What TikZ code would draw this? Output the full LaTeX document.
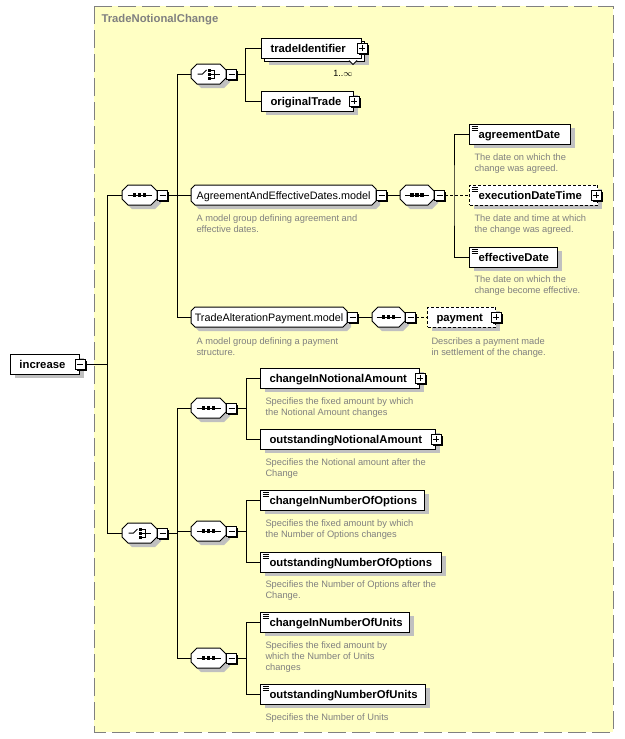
\documentclass[tikz,border=0pt]{standalone}
\usepackage{fontspec}
\setmainfont{Liberation Sans}
\usepackage{tikz}
\usetikzlibrary{shadows}

\definecolor{panelfill}{HTML}{FFFFC4}
\definecolor{panelgray}{HTML}{808080}
\definecolor{shadegray}{HTML}{C0C0C0}
\definecolor{notegray}{HTML}{808080}

\newcommand{\elemfont}{\fontsize{11.3}{13}\selectfont\bfseries}
\newcommand{\modelfont}{\fontsize{10.8}{13}\selectfont}
\newcommand{\notefont}{\fontsize{9.3}{11}\selectfont}

% rectangle with cut corners, for compositors and model groups
\makeatletter
\newdimen\octL \newdimen\octR \newdimen\octT \newdimen\octB \newdimen\octC
\pgfkeys{/pgf/oct cut/.initial=5pt}
\pgfdeclareshape{octbox}{%
  \inheritsavedanchors[from=rectangle]%
  \inheritanchorborder[from=rectangle]%
  \inheritanchor[from=rectangle]{center}%
  \inheritanchor[from=rectangle]{north}%
  \inheritanchor[from=rectangle]{south}%
  \inheritanchor[from=rectangle]{east}%
  \inheritanchor[from=rectangle]{west}%
  \inheritanchor[from=rectangle]{north east}%
  \inheritanchor[from=rectangle]{north west}%
  \inheritanchor[from=rectangle]{south east}%
  \inheritanchor[from=rectangle]{south west}%
  \inheritanchor[from=rectangle]{base}%
  \backgroundpath{%
    \pgfmathsetlength\octC{\pgfkeysvalueof{/pgf/oct cut}}%
    \southwest \octL=\pgf@x \octB=\pgf@y
    \northeast \octR=\pgf@x \octT=\pgf@y
    \pgfpathmoveto{\pgfpoint{\octL+\octC}{\octT}}%
    \pgfpathlineto{\pgfpoint{\octR-\octC}{\octT}}%
    \pgfpathlineto{\pgfpoint{\octR}{\octT-\octC}}%
    \pgfpathlineto{\pgfpoint{\octR}{\octB+\octC}}%
    \pgfpathlineto{\pgfpoint{\octR-\octC}{\octB}}%
    \pgfpathlineto{\pgfpoint{\octL+\octC}{\octB}}%
    \pgfpathlineto{\pgfpoint{\octL}{\octB+\octC}}%
    \pgfpathlineto{\pgfpoint{\octL}{\octT-\octC}}%
    \pgfpathclose}}
\makeatother

\begin{document}
\begin{tikzpicture}[x=1pt, y=-1pt, line width=1pt,
  shd/.style      = {drop shadow={shadow xshift=4pt, shadow yshift=-4pt,
                     fill=shadegray, opacity=1}},
  box/.style      = {draw, fill=white, rectangle, anchor=west, align=left,
                     text width=#1, inner xsep=9pt, inner ysep=0pt,
                     minimum height=20pt, text height=9pt, text depth=1pt,
                     font=\elemfont},
  el/.style       = {box=#1, shd},
  opt/.style      = {el=#1, dash pattern=on 3pt off 2pt},
  simple/.style   = {path picture={
                       \foreach \k in {2,4,6}
                         \draw[solid, line width=.8pt]
                           ([shift={(2,\k)}]path picture bounding box.north west) -- ++(6,0);}},
  oct/.style      = {shd, draw, fill=white, shape=octbox, oct cut=6pt,
                     minimum width=35pt, minimum height=20pt, inner sep=0pt,
                     outer sep=0pt, anchor=west},
  seq/.style      = {oct, path picture={
                       \draw ([xshift=-12pt]path picture bounding box.center)
                          -- ([xshift=12pt]path picture bounding box.center);
                       \foreach \k in {-5,0,5}
                         \fill[black] ([shift={(\k-1.75,-1.75)}]path picture bounding box.center)
                           rectangle ++(3.5,3.5);}},
  choice/.style   = {oct, path picture={
                       \draw ([shift={(-11,0)}]path picture bounding box.center)
                          -- ([shift={(-6,0)}]path picture bounding box.center)
                          -- ([shift={(-2,-4)}]path picture bounding box.center);
                       \foreach \k in {-4,0,4}
                         \fill[black] ([shift={(-1,\k-1.5)}]path picture bounding box.center)
                           rectangle ++(3,3);
                       \draw ([shift={(2,-4)}]path picture bounding box.center)
                          -- ++(4,0) -- ++(0,8) -- ++(-4,0);
                       \draw ([shift={(2,0)}]path picture bounding box.center) -- ++(9,0);}},
  mdl/.style      = {shd, draw, fill=white, shape=octbox, oct cut=4pt,
                     minimum width=#1, minimum height=20pt, inner xsep=2pt, inner ysep=0pt,
                     outer sep=0pt, text height=9pt, text depth=1pt, anchor=west,
                     font=\modelfont},
  btn/.style      = {draw, fill=white, rectangle, minimum size=10pt, inner sep=0pt,
                     drop shadow={shadow xshift=1.5pt, shadow yshift=-1.5pt,
                     fill=black, opacity=1}},
  btnminus/.style = {btn, path picture={
                       \draw ([xshift=2pt]path picture bounding box.west)
                          -- ([xshift=-2pt]path picture bounding box.east);}},
  btnplus/.style  = {btn, path picture={
                       \draw ([xshift=2pt]path picture bounding box.west)
                          -- ([xshift=-2pt]path picture bounding box.east);
                       \draw ([yshift=2pt]path picture bounding box.south)
                          -- ([yshift=-2pt]path picture bounding box.north);}},
  note/.style     = {anchor=north west, inner sep=0pt, align=left,
                     font=\notefont, text=notegray},
  optline/.style  = {dash pattern=on 3pt off 2pt}]

\useasboundingbox (0,0) rectangle (624,739);

% --- panel ------------------------------------------------------------
\draw[panelgray, fill=panelfill, dash pattern=on 18pt off 6pt] (94,6) rectangle (613,732);
\node[font=\elemfont, text=panelgray, anchor=base west, inner sep=0pt] (title)
      at (101,22) {TradeNotionalChange};

% --- root -------------------------------------------------------------
\node[el=51] (inc) at (10,364) {increase};
\node[btnminus] (incB) at (inc.east) {};

% --- upper sequence ---------------------------------------------------
\node[seq] (sq1) at (122,195) {};
\node[btnminus, anchor=west] (sq1B) at (sq1.east) {};

\node[choice] (ch1) at (191,74) {};
\node[btnminus, anchor=west] (ch1B) at (ch1.east) {};
\node[box=82, shd] (tidBack) at (264,51) {};
\node[box=82] (tid) at (261,48) {tradeIdentifier};
\node[btnplus] (tidB) at (tid.east) {};
\draw[fill=white, line width=.8pt] ([shift={(-16,-1)}]tidBack.south east)
      -- ++(4,4) -- ++(4,-4);
\node[font=\fontsize{9}{10}\selectfont, inner sep=0pt] (tidOcc) at (343,73) {1..$\infty$};
\node[el=74] (ot) at (261,101) {originalTrade};
\node[btnplus] (otB) at (ot.east) {};

\node[mdl=185pt] (mdl1) at (191,195) {AgreementAndEffectiveDates.model};
\node[btnminus, anchor=west] (mdl1B) at (mdl1.east) {};
\node[note] (mdl1N) at (196,214) {A model group defining agreement and\\effective dates.};
\node[seq, minimum width=34pt] (sq2) at (400,195) {};
\node[btnminus, anchor=west] (sq2B) at (sq2.east) {};
\node[el=83, simple] (agd) at (469,134) {agreementDate};
\node[note] (agdN) at (474,153) {The date on which the\\change was agreed.};
\node[opt=110, simple] (exd) at (469,195) {executionDateTime};
\node[btnplus] (exdB) at ([xshift=-2pt]exd.east) {};
\node[note] (exdN) at (474,214) {The date and time at which\\the change was agreed.};
\node[el=70, simple] (efd) at (469,257) {effectiveDate};
\node[note] (efdN) at (474,275) {The date on which the\\change become effective.};

\node[mdl=156pt] (mdl2) at (191,317) {TradeAlterationPayment.model};
\node[btnminus, anchor=west] (mdl2B) at (mdl2.east) {};
\node[note] (mdl2N) at (196,337) {A model group defining a payment\\structure.};
\node[seq, minimum width=33pt] (sq3) at (372,317) {};
\node[btnminus, anchor=west] (sq3B) at (sq3.east) {};
\node[opt=50] (pay) at (427,317) {payment};
\node[btnplus] (payB) at (pay.east) {};
\node[note] (payN) at (431,337) {Describes a payment made\\in settlement of the change.};

% --- lower choice -----------------------------------------------------
\node[choice] (ch2) at (122,533) {};
\node[btnminus, anchor=west] (ch2B) at (ch2.east) {};

\node[seq] (sqA) at (191,408) {};
\node[btnminus, anchor=west] (sqAB) at (sqA.east) {};
\node[el=141] (cina) at (260,378) {changeInNotionalAmount};
\node[btnplus] (cinaB) at (cina.east) {};
\node[note] (cinaN) at (265,397) {Specifies the fixed amount by which\\the Notional Amount changes};
\node[el=157] (ona) at (260,439) {outstandingNotionalAmount};
\node[btnplus] (onaB) at (ona.east) {};
\node[note] (onaN) at (265,458) {Specifies the Notional amount after the\\Change};

\node[seq] (sqB) at (191,531) {};
\node[btnminus, anchor=west] (sqBB) at (sqB.east) {};
\node[el=146, simple] (cino) at (260,500) {changeInNumberOfOptions};
\node[note] (cinoN) at (265,519) {Specifies the fixed amount by which\\the Number of Options changes};
\node[el=163, simple] (ono) at (260,562) {outstandingNumberOfOptions};
\node[note] (onoN) at (265,580) {Specifies the Number of Options after the\\Change.};

\node[seq] (sqC) at (191,658) {};
\node[btnminus, anchor=west] (sqCB) at (sqC.east) {};
\node[el=131, simple] (cinu) at (260,622) {changeInNumberOfUnits};
\node[note] (cinuN) at (265,641) {Specifies the fixed amount by\\which the Number of Units\\changes};
\node[el=147, simple] (onu) at (260,694) {outstandingNumberOfUnits};
\node[note] (onuN) at (265,713) {Specifies the Number of Units};

% --- connectors -------------------------------------------------------
\coordinate (busRoot) at (107,0);
\coordinate (busTop)  at (177,0);
\coordinate (busTid)  at (245,0);
\coordinate (busDate) at (454,0);
\coordinate (busBot)  at (177,0);
\coordinate (busAmt)  at (246,0);

\draw (incB.east) -- (incB.east -| busRoot) |- (sq1.west);
\draw (incB.east -| busRoot) |- (ch2.west);

\draw (sq1B.east) -- (sq1B.east -| busTop) |- (ch1.west);
\draw (sq1B.east -| busTop) |- (mdl1.west);
\draw (sq1B.east -| busTop) |- (mdl2.west);

\draw (ch1B.east) -- (ch1B.east -| busTid) |- (tid.west);
\draw (ch1B.east -| busTid) |- (ot.west);

\draw (mdl1B.east) -- (sq2.west);
\draw (agd.west) -| (sq2B.east -| busDate) |- (efd.west);
\draw[optline] (sq2B.east) -- (exd.west);

\draw (mdl2B.east) -- (sq3.west);
\draw[optline] (sq3B.east) -- (pay.west);

\draw (ch2B.east) -- (ch2B.east -| busBot) |- (sqA.west);
\draw (ch2B.east -| busBot) |- (sqB.west);
\draw (ch2B.east -| busBot) |- (sqC.west);

\draw (sqAB.east) -- (sqAB.east -| busAmt) |- (cina.west);
\draw (sqAB.east -| busAmt) |- (ona.west);
\draw (sqBB.east) -- (sqBB.east -| busAmt) |- (cino.west);
\draw (sqBB.east -| busAmt) |- (ono.west);
\draw (sqCB.east) -- (sqCB.east -| busAmt) |- (cinu.west);
\draw (sqCB.east -| busAmt) |- (onu.west);
\end{tikzpicture}
\end{document}
